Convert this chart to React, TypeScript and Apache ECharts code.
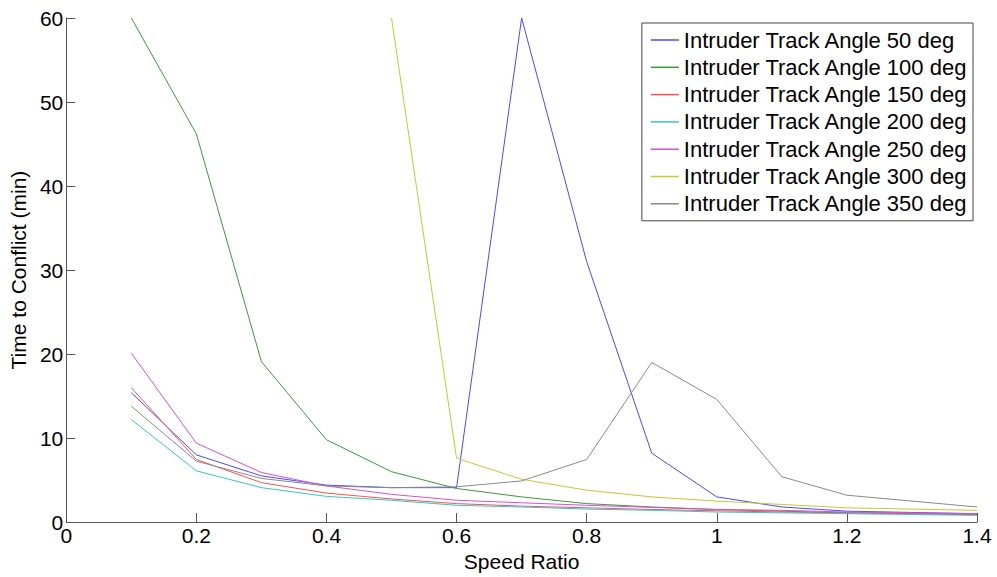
import React, { useEffect, useRef } from "react";
import * as echarts from "echarts";

const speedRatio = [0.1, 0.2, 0.3, 0.4, 0.5, 0.6, 0.7, 0.8, 0.9, 1.0, 1.1, 1.2, 1.3, 1.4];

const angle50 = [15.4, 8.0, 5.5, 4.4, 4.1, 4.1, 60, 31, 8.2, 3.0, 1.8, 1.3, 1.15, 1.0];
const angle100 = [60, 46.2, 19.1, 9.8, 6.0, 4.0, 3.0, 2.2, 1.8, 1.5, 1.3, 1.1, 1.0, 0.9];
const angle150 = [16.0, 7.45, 4.7, 3.45, 2.75, 2.2, 1.9, 1.7, 1.5, 1.35, 1.2, 1.1, 1.0, 0.9];
const angle200 = [12.2, 6.1, 4.1, 3.06, 2.6, 2.0, 1.8, 1.55, 1.4, 1.2, 1.1, 1.0, 0.9, 0.8];
const angle250 = [20.1, 9.4, 5.9, 4.3, 3.3, 2.6, 2.3, 2.0, 1.75, 1.5, 1.4, 1.2, 1.1, 1.0];
const angle300 = [null, null, null, null, 60, 7.6, 5.1, 3.8, 3.0, 2.5, 2.1, 1.7, 1.55, 1.4];
const angle350 = [13.8, 7.25, 5.2, 4.3, 4.1, 4.2, 4.9, 7.46, 19, 14.6, 5.4, 3.2, 2.5, 1.8];

const seriesNames = [
  "Intruder Track Angle 50 deg",
  "Intruder Track Angle 100 deg",
  "Intruder Track Angle 150 deg",
  "Intruder Track Angle 200 deg",
  "Intruder Track Angle 250 deg",
  "Intruder Track Angle 300 deg",
  "Intruder Track Angle 350 deg",
];
const seriesData = [angle50, angle100, angle150, angle200, angle250, angle300, angle350];
const seriesColors = ["#4a4aff", "#3c9a3c", "#ff5050", "#33c8c8", "#d84fd8", "#c8c830", "#8a8a8a"];

const xTicks = [0, 0.2, 0.4, 0.6, 0.8, 1, 1.2, 1.4];

export default function App() {
  const ref = useRef<HTMLDivElement>(null);
  useEffect(() => {
    if (!ref.current) return;
    const chart = echarts.init(ref.current, undefined, { renderer: "svg" });
    const font = "'Liberation Sans', Arial, sans-serif";
    chart.setOption({
      animation: false,
      backgroundColor: "#ffffff",
      textStyle: { fontFamily: font },
      grid: { left: 65, right: 20, top: 18, bottom: 52, containLabel: false },
      legend: {
        orient: "vertical",
        right: 24,
        top: 23,
        backgroundColor: "#ffffff",
        borderColor: "#444",
        borderWidth: 1,
        padding: [6, 5, 6, 9],
        icon: "rect",
        itemWidth: 28,
        itemHeight: 1.5,
        itemGap: 5.3,
        data: seriesNames,
        textStyle: { fontSize: 22, color: "#000", fontFamily: font, lineHeight: 22 },
      },
      xAxis: {
        type: "value",
        min: 0,
        max: 1.4,
        interval: 0.2,
        name: "Speed Ratio",
        nameLocation: "middle",
        nameGap: 26,
        nameTextStyle: { fontSize: 21, color: "#000", fontFamily: font },
        axisLine: { show: true, lineStyle: { color: "#555", width: 1 } },
        axisTick: { show: true, inside: true, length: 9, lineStyle: { color: "#555" } },
        splitLine: { show: false },
        axisLabel: {
          fontSize: 21,
          color: "#000",
          margin: 3,
          fontFamily: font,
          formatter: (v: number) => {
            const t = xTicks.find((x) => Math.abs(x - v) < 1e-6);
            return t === undefined ? "" : String(t);
          },
        },
      },
      yAxis: {
        type: "value",
        min: 0,
        max: 60,
        interval: 10,
        name: "Time to Conflict (min)",
        nameLocation: "middle",
        nameGap: 32,
        nameTextStyle: { fontSize: 21, color: "#000", fontFamily: font },
        axisLine: { show: true, lineStyle: { color: "#555", width: 1 } },
        axisTick: { show: true, inside: true, length: 9, lineStyle: { color: "#555" } },
        splitLine: { show: false },
        axisLabel: { fontSize: 21, color: "#000", margin: 3, fontFamily: font },
      },
      series: seriesNames.map((name, i) => ({
        name,
        type: "line",
        symbol: "none",
        connectNulls: false,
        color: seriesColors[i],
        lineStyle: { width: 1, color: seriesColors[i] },
        data: speedRatio.map((x, j) => [x, seriesData[i][j]]),
      })),
    });
    return () => chart.dispose();
  }, []);
  return (
    <div
      ref={ref}
      style={{ position: "fixed", left: 0, top: 0, width: 997, height: 577, background: "#fff" }}
    />
  );
}
